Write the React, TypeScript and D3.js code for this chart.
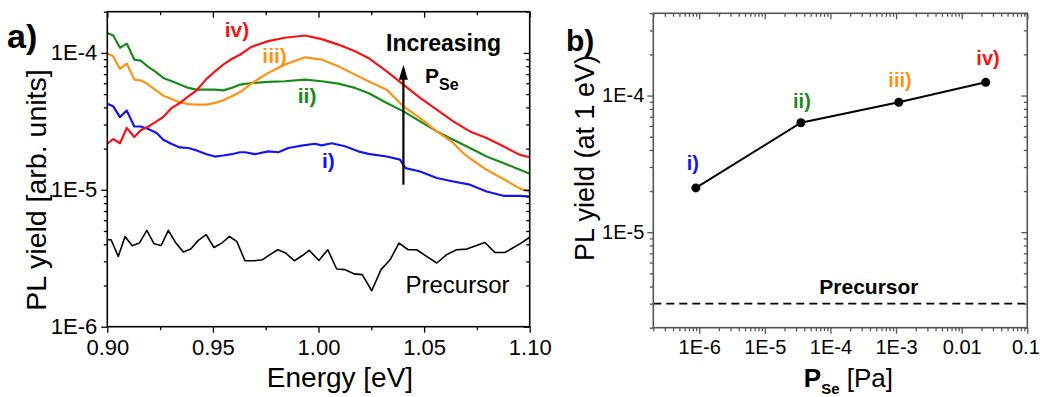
import React, { useEffect, useRef } from 'react';
import * as d3 from 'd3';

// panel a) PL spectra, energy in eV
const energyI = [0.9, 0.9028, 0.906, 0.9092, 0.9128, 0.9158, 0.9194, 0.9234, 0.9265, 0.9305, 0.9344, 0.9384, 0.9423, 0.947, 0.951, 0.9549, 0.9589, 0.9628, 0.9652, 0.9699, 0.9762, 0.981, 0.9857, 0.992, 0.9983, 1.0015, 1.0062, 1.0125, 1.0188, 1.0236, 1.0323, 1.0386, 1.0412, 1.0481, 1.056, 1.0638, 1.0717, 1.0796, 1.0875, 1.0954, 1.1];
const yieldI = [4.26e-5, 4.07e-5, 3.4e-5, 3.79e-5, 2.9e-5, 2.9e-5, 2.78e-5, 2.6e-5, 2.32e-5, 2.16e-5, 2.04e-5, 2.02e-5, 1.94e-5, 1.82e-5, 1.75e-5, 1.78e-5, 1.82e-5, 1.88e-5, 1.88e-5, 1.82e-5, 1.91e-5, 1.88e-5, 2.02e-5, 2.1e-5, 2.17e-5, 2.11e-5, 2.19e-5, 2.08e-5, 1.91e-5, 1.83e-5, 1.75e-5, 1.66e-5, 1.44e-5, 1.36e-5, 1.22e-5, 1.15e-5, 1.09e-5, 9.72e-6, 9.04e-6, 9.04e-6, 8.93e-6];

const energyII = [0.9, 0.9028, 0.906, 0.9092, 0.9128, 0.9158, 0.9194, 0.9226, 0.9265, 0.9305, 0.9344, 0.9384, 0.9423, 0.947, 0.951, 0.9549, 0.9589, 0.9628, 0.9684, 0.9762, 0.9841, 0.9936, 1.0015, 1.0094, 1.0173, 1.0236, 1.0323, 1.0402, 1.0481, 1.056, 1.0638, 1.0717, 1.0796, 1.0875, 1.0954, 1.1];
const yieldII = [1.4e-4, 1.34e-4, 1.09e-4, 1.17e-4, 8.94e-5, 8.79e-5, 7.91e-5, 7.34e-5, 6.56e-5, 6.21e-5, 5.87e-5, 5.55e-5, 5.39e-5, 5.39e-5, 5.39e-5, 5.33e-5, 5.55e-5, 5.87e-5, 6.03e-5, 6.14e-5, 6.21e-5, 6.38e-5, 6.21e-5, 5.97e-5, 5.55e-5, 5.1e-5, 4.31e-5, 3.74e-5, 3.16e-5, 2.67e-5, 2.32e-5, 2.02e-5, 1.75e-5, 1.57e-5, 1.4e-5, 1.31e-5];

const energyIII = [0.9, 0.9028, 0.906, 0.9092, 0.9128, 0.9158, 0.9194, 0.9226, 0.9265, 0.9305, 0.9344, 0.9384, 0.9423, 0.947, 0.951, 0.9549, 0.9589, 0.9628, 0.9684, 0.9762, 0.9841, 0.9936, 1.0015, 1.0094, 1.0173, 1.0236, 1.0323, 1.0402, 1.0481, 1.056, 1.0638, 1.0686, 1.0717, 1.0796, 1.0875, 1.0954, 1.1];
const yieldIII = [9.89e-5, 9.46e-5, 7.64e-5, 8.36e-5, 6.38e-5, 6.31e-5, 5.87e-5, 5.39e-5, 4.87e-5, 4.61e-5, 4.35e-5, 4.23e-5, 4.19e-5, 4.19e-5, 4.31e-5, 4.51e-5, 4.82e-5, 5.15e-5, 6.0e-5, 7.14e-5, 8.22e-5, 9.29e-5, 8.94e-5, 7.98e-5, 6.94e-5, 6.21e-5, 5.39e-5, 4.07e-5, 3.34e-5, 2.67e-5, 2.2e-5, 1.85e-5, 1.7e-5, 1.4e-5, 1.2e-5, 1.02e-5, 9.7e-6];

const energyIV = [0.9, 0.9028, 0.906, 0.9092, 0.9128, 0.9158, 0.9194, 0.9226, 0.9265, 0.9305, 0.9344, 0.9384, 0.9423, 0.947, 0.951, 0.9549, 0.9589, 0.9628, 0.9684, 0.9762, 0.9841, 0.9936, 1.0015, 1.0094, 1.0173, 1.0236, 1.0323, 1.0402, 1.0481, 1.056, 1.0638, 1.0717, 1.0796, 1.0875, 1.0954, 1.1];
const yieldIV = [2.17e-5, 2.35e-5, 2.19e-5, 2.83e-5, 2.43e-5, 2.72e-5, 2.9e-5, 3.11e-5, 3.4e-5, 3.97e-5, 4.31e-5, 4.82e-5, 5.33e-5, 6.46e-5, 7.34e-5, 8.22e-5, 9.04e-5, 9.7e-5, 1.11e-4, 1.22e-4, 1.29e-4, 1.34e-4, 1.26e-4, 1.15e-4, 1.03e-4, 9.19e-5, 7.34e-5, 5.87e-5, 4.7e-5, 3.85e-5, 3.16e-5, 2.67e-5, 2.39e-5, 2.08e-5, 1.8e-5, 1.73e-5];

const energyPre = [0.9, 0.9018, 0.9052, 0.9084, 0.9118, 0.9152, 0.9187, 0.9221, 0.9255, 0.9289, 0.9325, 0.936, 0.9395, 0.9431, 0.9468, 0.9505, 0.9542, 0.9578, 0.9613, 0.9652, 0.9692, 0.9734, 0.977, 0.9807, 0.9845, 0.9886, 0.9924, 0.9956, 1.0002, 1.0044, 1.0086, 1.0126, 1.017, 1.0207, 1.0252, 1.0296, 1.0339, 1.0381, 1.0425, 1.0465, 1.0512, 1.056, 1.0607, 1.0654, 1.0702, 1.0788, 1.0836, 1.0883, 1.0959, 1.1];
const yieldPre = [4.32e-6, 4.32e-6, 3.26e-6, 4.56e-6, 3.9e-6, 4.08e-6, 5.05e-6, 4.04e-6, 3.92e-6, 5.05e-6, 4.08e-6, 3.51e-6, 3.69e-6, 4.27e-6, 4.7e-6, 3.79e-6, 4.08e-6, 4.56e-6, 4.2e-6, 3.03e-6, 3.03e-6, 3.08e-6, 3.36e-6, 3.65e-6, 3.45e-6, 3.03e-6, 3.31e-6, 3.61e-6, 3.05e-6, 3.65e-6, 2.64e-6, 2.61e-6, 2.43e-6, 2.4e-6, 1.83e-6, 2.61e-6, 3.08e-6, 4.08e-6, 3.65e-6, 3.65e-6, 3.26e-6, 2.92e-6, 3.36e-6, 3.65e-6, 3.69e-6, 4.12e-6, 3.48e-6, 3.48e-6, 4.08e-6, 4.5e-6];

// panel b) PL yield at 1 eV vs Se pressure
const pressureSe = [8.9e-7, 3.55e-5, 1.1e-3, 0.0232];
const yieldAt1eV = [2.11e-5, 6.33e-5, 8.94e-5, 1.25e-4];
const precursorLevel = 3e-6;

const sampleLabels = ['i)', 'ii)', 'iii)', 'iv)'];
const sampleColors = ['#1414f0', '#1a8a1a', '#ff9214', '#f51414'];

const energyTicks = [0.9, 0.95, 1.0, 1.05, 1.1];
const energyTickLabels = ['0.90', '0.95', '1.00', '1.05', '1.10'];
const yieldTicksA = [1e-6, 1e-5, 1e-4];
const yieldTickLabelsA = ['1E-6', '1E-5', '1E-4'];
const pressureTicks = [1e-6, 1e-5, 1e-4, 1e-3, 1e-2, 1e-1];
const pressureTickLabels = ['1E-6', '1E-5', '1E-4', '1E-3', '0.01', '0.1'];
const yieldTicksB = [1e-5, 1e-4];
const yieldTickLabelsB = ['1E-5', '1E-4'];

const FONT = '"Liberation Sans", Arial, sans-serif';

const isDecade = (v) => Math.abs(Math.log10(v) - Math.round(Math.log10(v))) < 1e-6;

// box with outward ticks on bottom/left and inward mirror ticks on top/right
function drawFrame(svg, x, y, opts) {
    const [x0, x1] = x.range();
    const [y0, y1] = y.range();
    const g = svg.append('g');

    const axes = [
        { axis: d3.axisBottom, t: `translate(0,${y0})`, s: x, major: opts.xMajor, labels: opts.xLabels, minor: opts.xMinor, inward: false, pad: opts.xPad, fs: opts.xFont },
        { axis: d3.axisTop, t: `translate(0,${y1})`, s: x, major: opts.xMajor, labels: null, minor: opts.xMinor, inward: true },
        { axis: d3.axisLeft, t: `translate(${x0},0)`, s: y, major: opts.yMajor, labels: opts.yLabels, minor: opts.yMinor, inward: false, pad: opts.yPad, fs: opts.yFont },
        { axis: d3.axisRight, t: `translate(${x1},0)`, s: y, major: opts.yMajor, labels: null, minor: opts.yMinor, inward: true },
    ];

    axes.forEach((a) => {
        const sign = a.inward ? -1 : 1;
        const minor = g.append('g').attr('transform', a.t)
            .call(a.axis(a.s).tickValues(a.minor).tickSize(sign * 3.5).tickFormat(() => ''));
        const major = g.append('g').attr('transform', a.t)
            .call(a.axis(a.s).tickValues(a.major).tickSize(sign * 6)
                .tickPadding(a.pad || 3)
                .tickFormat((d, i) => (a.labels ? a.labels[i] : '')));
        [minor, major].forEach((ax) => {
            ax.select('.domain').remove();
            ax.selectAll('line').attr('stroke', opts.frameColor).attr('stroke-width', 1.3);
            ax.selectAll('text').attr('font-family', FONT).attr('font-size', a.fs || 20).attr('fill', '#000');
        });
    });

    g.append('rect')
        .attr('x', x0).attr('y', y1)
        .attr('width', x1 - x0).attr('height', y0 - y1)
        .attr('fill', 'none')
        .attr('stroke', opts.frameColor)
        .attr('stroke-width', 1.6);
    return g;
}

function boldText(svg, px, py, text, size, color, anchor = 'middle') {
    return svg.append('text')
        .attr('x', px).attr('y', py)
        .attr('text-anchor', anchor)
        .attr('font-family', FONT)
        .attr('font-weight', 'bold')
        .attr('font-size', size)
        .attr('fill', color)
        .text(text);
}

const Chart = () => {
    const svgRef = useRef(null);

    useEffect(() => {
        const svg = d3.select(svgRef.current);
        svg.selectAll('*').remove();

        // ---------- panel a ----------
        const xA = d3.scaleLinear().domain([0.9, 1.1]).range([107.3, 529.7]);
        const yA = d3.scaleLog().domain([1e-6, 2e-4]).range([326.7, 11.7]);

        const lineA = d3.line().x((d) => xA(d[0])).y((d) => yA(d[1]));

        svg.append('path')
            .datum(d3.zip(energyPre, yieldPre))
            .attr('d', lineA)
            .attr('fill', 'none')
            .attr('stroke', '#000')
            .attr('stroke-width', 1.6)
            .attr('stroke-linejoin', 'round');

        const spectra = [
            [energyI, yieldI],
            [energyII, yieldII],
            [energyIII, yieldIII],
            [energyIV, yieldIV],
        ];
        spectra.forEach(([e, v], i) => {
            svg.append('path')
                .datum(d3.zip(e, v))
                .attr('d', lineA)
                .attr('fill', 'none')
                .attr('stroke', sampleColors[i])
                .attr('stroke-width', 2.2)
                .attr('stroke-linejoin', 'round');
        });

        drawFrame(svg, xA, yA, {
            xMajor: energyTicks,
            xLabels: energyTickLabels,
            xMinor: [0.925, 0.975, 1.025, 1.075],
            yMajor: yieldTicksA,
            yLabels: yieldTickLabelsA,
            yMinor: yA.ticks().filter((v) => !isDecade(v)),
            xPad: 7,
            yPad: 4,
            xFont: 22,
            yFont: 22,
            frameColor: '#000',
        });

        // curve labels
        const labelPosA = [[1.0047, 1.45e-5], [0.9946, 4.33e-5], [0.9792, 8.49e-5], [0.9614, 1.31e-4]];
        labelPosA.forEach(([e, v], i) => {
            boldText(svg, xA(e), yA(v), sampleLabels[i], 21, sampleColors[i]);
        });

        svg.append('text')
            .attr('x', xA(1.0658)).attr('y', yA(1.77e-6))
            .attr('text-anchor', 'middle')
            .attr('font-family', FONT)
            .attr('font-size', 24)
            .text('Precursor');

        // increasing P_Se arrow
        const arrowX = xA(1.0402);
        const arrowBottom = yA(1.09e-5);
        const arrowTip = yA(8.2e-5);
        svg.append('line')
            .attr('x1', arrowX).attr('x2', arrowX)
            .attr('y1', arrowBottom).attr('y2', arrowTip + 12)
            .attr('stroke', '#000').attr('stroke-width', 2.2);
        svg.append('path')
            .attr('d', `M${arrowX},${arrowTip} L${arrowX - 4.5},${arrowTip + 15} L${arrowX + 4.5},${arrowTip + 15} Z`)
            .attr('fill', '#000');

        boldText(svg, xA(1.0592), yA(1.03e-4), 'Increasing', 23, '#000');
        const pse = boldText(svg, xA(1.0504), yA(6.0e-5), 'P', 21, '#000', 'start');
        pse.append('tspan').attr('dy', 7).attr('font-size', 16).text('Se');

        svg.append('text')
            .attr('x', 340).attr('y', 387)
            .attr('text-anchor', 'middle')
            .attr('font-family', FONT)
            .attr('font-size', 28)
            .text('Energy [eV]');

        svg.append('text')
            .attr('transform', 'translate(46,190) rotate(-90)')
            .attr('text-anchor', 'middle')
            .attr('font-family', FONT)
            .attr('font-size', 28.5)
            .text('PL yield [arb. units]');

        boldText(svg, 7, 48, 'a)', 34, '#000', 'start');

        // ---------- panel b ----------
        const xB = d3.scaleLog().domain([2e-7, 0.1]).range([653.3, 1027.3]);
        const yB = d3.scaleLog().domain([2e-6, 4e-4]).range([327.7, 13.3]);

        svg.append('line')
            .attr('x1', xB.range()[0]).attr('x2', xB.range()[1])
            .attr('y1', yB(precursorLevel)).attr('y2', yB(precursorLevel))
            .attr('stroke', '#000')
            .attr('stroke-width', 1.8)
            .attr('stroke-dasharray', '8,5');

        const lineB = d3.line().x((d) => xB(d[0])).y((d) => yB(d[1]));
        const pts = d3.zip(pressureSe, yieldAt1eV);
        svg.append('path')
            .datum(pts)
            .attr('d', lineB)
            .attr('fill', 'none')
            .attr('stroke', '#000')
            .attr('stroke-width', 2);
        svg.selectAll('.pt')
            .data(pts)
            .enter()
            .append('circle')
            .attr('class', 'pt')
            .attr('cx', (d) => xB(d[0]))
            .attr('cy', (d) => yB(d[1]))
            .attr('r', 4.5)
            .attr('fill', '#000');

        const frameB = drawFrame(svg, xB, yB, {
            xMajor: pressureTicks,
            xLabels: pressureTickLabels,
            xMinor: xB.ticks().filter((v) => !isDecade(v)),
            yMajor: yieldTicksB,
            yLabels: yieldTickLabelsB,
            yMinor: yB.ticks().filter((v) => !isDecade(v)),
            xPad: 6,
            yPad: 3,
            xFont: 20,
            yFont: 20,
            frameColor: '#555',
        });
        // keep the last tick label inside the picture
        frameB.selectAll('text').filter((d) => d === 0.1).attr('text-anchor', 'end').attr('dx', 12);

        const labelPosB = [[8.0e-7, 2.84e-5], [3.68e-5, 8.12e-5], [1.15e-3, 1.16e-4], [0.0252, 1.68e-4]];
        labelPosB.forEach(([p, v], i) => {
            boldText(svg, xB(p), yB(v), sampleLabels[i], 20, sampleColors[i]);
        });

        boldText(svg, xB(3.86e-4), yB(3.54e-6), 'Precursor', 21, '#000');

        const xt = boldText(svg, xB(1e-4) + 18, 387, 'P', 26, '#000');
        xt.append('tspan').attr('dy', 7).attr('font-size', 15).text('Se');
        xt.append('tspan').attr('dy', -7).attr('font-weight', 'normal').text(' [Pa]');

        svg.append('text')
            .attr('transform', 'translate(594,158) rotate(-90)')
            .attr('text-anchor', 'middle')
            .attr('font-family', FONT)
            .attr('font-size', 27)
            .text('PL yield (at 1 eV)');

        boldText(svg, 566, 51, 'b)', 30, '#000', 'start');
    }, []);

    return <svg ref={svgRef} width={1040} height={397} style={{ display: 'block' }}></svg>;
};

export default function App() {
    return (
        <div style={{ position: 'absolute', left: 0, top: 0, background: '#fff' }}>
            <Chart />
        </div>
    );
}
